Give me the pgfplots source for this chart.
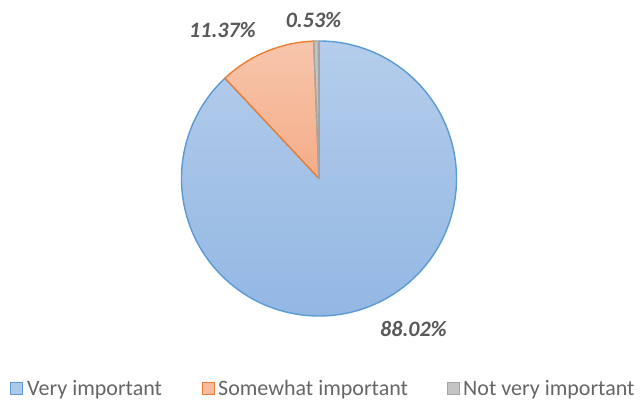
\documentclass[border=0pt]{standalone}
\usepackage{pgfplots}
\pgfplotsset{compat=1.18}
\usepackage{pgfplotstable}
\usepackage{fontspec}
\setmainfont{Carlito}
\definecolor{txt}{HTML}{595959}
\definecolor{legtxt}{HTML}{666666}
\definecolor{blueE}{HTML}{5B9BD5}
\definecolor{blueT}{HTML}{B4CDEB}
\definecolor{blueB}{HTML}{93B7E3}
\definecolor{orE}{HTML}{ED7D31}
\definecolor{orT}{HTML}{F7C6AC}
\definecolor{orB}{HTML}{F4AC87}
\definecolor{grE}{HTML}{A5A5A5}
\definecolor{grF}{HTML}{C4C4C4}

\pgfplotstableread[col sep=comma]{
label,value
Very important,88.02
Somewhat important,11.37
Not very important,0.53
}\piedata

\pgfplotstablegetelem{0}{value}\of\piedata \let\vA\pgfplotsretval
\pgfplotstablegetelem{1}{value}\of\piedata \let\vB\pgfplotsretval
\pgfplotstablegetelem{2}{value}\of\piedata \let\vC\pgfplotsretval
\pgfmathsetmacro{\aA}{90}
\pgfmathsetmacro{\aB}{\aA-3.6*\vA}
\pgfmathsetmacro{\aC}{\aB-3.6*\vB}
\pgfmathsetmacro{\aD}{\aC-3.6*\vC}

\begin{document}
\begin{tikzpicture}
\begin{axis}[
  at={(0,0)}, anchor=south west,
  scale only axis, width=640pt, height=399pt,
  xmin=0, xmax=640, ymin=0, ymax=399,
  hide axis, clip=false,
]
% slices (center 319,220.5; radius 137.5)
\filldraw[top color=blueT, bottom color=blueB, draw=blueE, line width=1.4pt, line join=round]
  (axis cs:319,220.5) -- ++(\aA:137.5pt) arc[start angle=\aA, end angle=\aB, radius=137.5pt] -- cycle;
\filldraw[top color=orT, bottom color=orB, draw=orE, line width=1.4pt, line join=round]
  (axis cs:319,220.5) -- ++(\aB:137.5pt) arc[start angle=\aB, end angle=\aC, radius=137.5pt] -- cycle;
\filldraw[fill=grF, draw=grE, line width=1.4pt, line join=round]
  (axis cs:319,220.5) -- ++(\aC:137.5pt) arc[start angle=\aC, end angle=\aD, radius=137.5pt] -- cycle;
% data labels
\pgfkeys{/pgf/number format/.cd, fixed, fixed zerofill, precision=2, assume math mode=true}
\node[text=txt, font=\fontsize{22}{26}\selectfont\bfseries\itshape] at (axis cs:222.5,369) {\pgfmathprintnumber{\vB}\%};
\node[text=txt, font=\fontsize{22}{26}\selectfont\bfseries\itshape] at (axis cs:313.5,379) {\pgfmathprintnumber{\vC}\%};
\node[text=txt, font=\fontsize{22}{26}\selectfont\bfseries\itshape] at (axis cs:413.5,69.5) {\pgfmathprintnumber{\vA}\%};
% legend
\filldraw[fill=blueT!80!blueB, draw=blueE, line width=1pt] (axis cs:10.5,4.5) rectangle (axis cs:22.5,16.5);
\node[anchor=base west, inner sep=0pt, text=legtxt, font=\fontsize{22}{26}\selectfont] at (axis cs:27,4) {Very important};
\filldraw[fill=orT!60!orB, draw=orE, line width=1pt] (axis cs:202.5,4.5) rectangle (axis cs:214.5,16.5);
\node[anchor=base west, inner sep=0pt, text=legtxt, font=\fontsize{22}{26}\selectfont] at (axis cs:218,4) {Somewhat important};
\filldraw[fill=grF, draw=grE, line width=1pt] (axis cs:447.5,4.5) rectangle (axis cs:459.5,16.5);
\node[anchor=base west, inner sep=0pt, text=legtxt, font=\fontsize{22}{26}\selectfont] at (axis cs:463,4) {Not very important};
\end{axis}
\pgfresetboundingbox
\path (0,0) rectangle (640pt,399pt);
\end{tikzpicture}
\end{document}
